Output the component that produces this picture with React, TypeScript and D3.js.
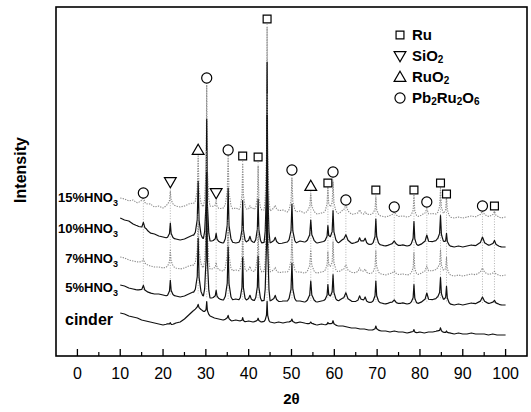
import React from 'react';
import * as d3 from 'd3';

const W = 531;
const H = 412;

// 2θ grid for baselines (10..100, 1° step)
const gridStart = 10;

// Reflection positions (2θ) and their widths (deg)
const peakPos = [15.4, 21.7, 28.2, 30.2, 32.4, 35.2, 38.6, 40.3, 42.2, 44.3, 46.2, 50.1, 54.5, 58.5, 59.7, 62.7, 65.9, 67.2, 69.7, 74.0, 78.6, 81.6, 84.8, 86.2, 94.6, 97.4];
const peakWidth = [0.5, 0.28, 0.3, 0.22, 0.3, 0.3, 0.25, 0.45, 0.25, 0.2, 0.45, 0.3, 0.35, 0.28, 0.3, 0.7, 0.5, 0.5, 0.28, 0.7, 0.28, 0.6, 0.3, 0.28, 0.7, 0.5];

// Peak heights per sample
const peaks15 = [6, 13, 49, 122, 7, 51, 46, 4, 45, 183, 4, 33, 19, 26, 30, 8, 4, 4, 18, 3, 21, 7, 27, 22, 5, 5];
const peaks10 = [7, 15, 55, 120, 8, 53, 42, 6, 43, 180, 5, 38, 21, 15, 30, 7, 5, 5, 25, 3, 24, 9, 26, 11, 8, 5];
const peaks7 = [5, 16, 52, 118, 7, 50, 45, 5, 44, 178, 4, 35, 22, 19, 29, 7, 4, 4, 22, 3, 22, 7, 21, 16, 6, 3];
const peaks5 = [6, 15, 55, 125, 8, 52, 43, 5, 44, 185, 5, 37, 20, 15, 25, 8, 5, 5, 21, 3, 19, 9, 22, 16, 6, 3];
const peaksCinder = [0, 2, 4, 12, 0, 4, 4, 0, 3, 20, 0, 3, 2, 2, 4, 0, 0, 0, 4, 0, 3, 0, 4, 2, 0, 0];

// Baselines (intensity, 10..100 step 1)
const base15 = [158, 157, 155, 156, 153, 154, 151, 152, 149, 150, 148, 151, 152, 150, 149, 150, 152, 153, 151, 150, 149, 150, 149, 147, 148, 149, 147, 148, 146, 147, 146, 147, 145, 146, 146, 145, 147, 145, 146, 144, 145, 144, 145, 143, 144, 144, 142, 143, 144, 145, 144, 142, 144, 143, 141, 142, 142, 140, 141, 142, 141, 140, 139, 140, 141, 139, 140, 139, 140, 139, 140, 141, 140, 142, 142, 141, 140, 139, 138, 139, 138, 139, 140, 139, 140, 140, 139, 140, 139, 138, 139];
const base10 = [138, 136, 135, 132, 130, 127, 126, 123, 122, 120, 119, 118, 118, 117, 116, 117, 119, 121, 120, 118, 117, 115, 115, 114, 113, 115, 114, 113, 114, 113, 114, 113, 114, 113, 114, 113, 114, 112, 113, 114, 114, 113, 115, 114, 115, 115, 113, 114, 115, 116, 115, 113, 115, 114, 112, 113, 113, 113, 111, 112, 112, 111, 110, 111, 112, 110, 111, 110, 111, 110, 111, 112, 112, 114, 116, 114, 112, 110, 109, 110, 109, 110, 111, 110, 111, 111, 110, 111, 110, 109, 109];
const base7 = [99, 98, 96, 95, 94, 93, 91, 90, 89, 89, 88, 89, 90, 88, 87, 88, 90, 91, 90, 89, 88, 87, 87, 86, 85, 86, 85, 86, 85, 84, 85, 84, 85, 84, 85, 84, 85, 83, 84, 84, 85, 84, 84, 83, 84, 84, 83, 84, 85, 86, 85, 84, 85, 84, 83, 83, 84, 83, 82, 83, 83, 82, 81, 82, 82, 81, 82, 81, 82, 81, 82, 83, 83, 85, 87, 85, 83, 81, 80, 81, 80, 81, 82, 81, 82, 82, 81, 82, 81, 80, 81];
const base5 = [71, 70, 68, 67, 66, 65, 64, 63, 62, 62, 61, 60, 61, 60, 59, 60, 62, 64, 63, 61, 59, 58, 58, 57, 56, 57, 56, 57, 56, 55, 56, 55, 56, 55, 56, 55, 56, 54, 55, 55, 56, 55, 55, 54, 55, 55, 54, 55, 56, 57, 56, 55, 56, 55, 54, 54, 55, 54, 53, 54, 54, 53, 52, 53, 53, 52, 53, 52, 53, 52, 53, 54, 54, 56, 58, 56, 54, 52, 51, 52, 51, 52, 53, 52, 53, 53, 52, 53, 52, 51, 51];
const baseCinder = [43, 42, 40, 39, 38, 36, 35, 34, 33, 32, 31, 32, 31, 33, 34, 37, 41, 45, 48, 46, 43, 40, 38, 37, 36, 37, 35, 36, 35, 34, 35, 34, 35, 34, 35, 34, 33, 34, 33, 34, 34, 33, 34, 33, 32, 32, 31, 32, 31, 32, 31, 30, 30, 29, 28, 28, 27, 27, 26, 26, 26, 25, 25, 24, 25, 24, 24, 23, 24, 23, 24, 23, 24, 24, 25, 24, 23, 23, 22, 23, 22, 22, 23, 22, 22, 22, 21, 22, 21, 21, 21];

const seriesNames = ['15%HNO', '10%HNO', '7%HNO', '5%HNO', 'cinder'];
const seriesBases = [base15, base10, base7, base5, baseCinder];
const seriesPeaks = [peaks15, peaks10, peaks7, peaks5, peaksCinder];
const seriesDotted = [true, false, true, false, false];
const seriesLabelY = [197, 228, 258, 287, 319];

// Phase markers
const markerType = ['circle', 'down', 'up', 'circle', 'down', 'circle', 'square', 'square', 'square', 'circle', 'up', 'square', 'circle', 'circle', 'square', 'circle', 'square', 'circle', 'square', 'square', 'circle', 'square'];
const markerPos = [15.4, 21.7, 28.2, 30.2, 32.4, 35.2, 38.6, 42.2, 44.3, 50.1, 54.5, 58.5, 59.7, 62.7, 69.7, 74.0, 78.6, 81.6, 84.8, 86.2, 94.6, 97.4];
const markerY = [163, 174, 206, 278, 163, 206, 200, 199, 337, 186, 170, 173, 184, 156, 166, 149, 166, 154, 173, 162, 150, 150];

const legendTypes = ['square', 'down', 'up', 'circle'];
const legendLabels = [
  [['Ru', false]],
  [['SiO', false], ['2', true]],
  [['RuO', false], ['2', true]],
  [['Pb', false], ['2', true], ['Ru', false], ['2', true], ['O', false], ['6', true]],
];

const xTicks = [0, 10, 20, 30, 40, 50, 60, 70, 80, 90, 100];
const xMinor = [5, 15, 25, 35, 45, 55, 65, 75, 85, 95];

const FONT = 'Liberation Sans, Arial, Helvetica, sans-serif';

const x = d3.scaleLinear().domain([-5, 105]).range([56, 527]);
const y = d3.scaleLinear().domain([0, 349]).range([356, 7]);

function shape(d: number): number {
  const a = Math.abs(d);
  const k = [0, 0.7, 2.2, 3.5];
  const v = [1, 0.3, 0.06, 0];
  if (a >= k[3]) return 0;
  for (let i = 0; i < 3; i++) {
    if (a <= k[i + 1]) {
      const f = (a - k[i]) / (k[i + 1] - k[i]);
      return v[i] * (1 - f) + v[i + 1] * f;
    }
  }
  return 0;
}

function baseAt(base: number[], t: number): number {
  const u = Math.max(0, Math.min(base.length - 1, t - gridStart));
  const i = Math.min(base.length - 2, Math.floor(u));
  const f = u - i;
  return base[i] * (1 - f) + base[i + 1] * f;
}

function buildTrace(base: number[], heights: number[]): [number, number][] {
  const xs: number[] = base.map((_, i) => gridStart + i);
  peakPos.forEach((p, i) => {
    if (!heights[i]) return;
    const w = peakWidth[i];
    [-3.5, -2.2, -0.7, 0, 0.7, 2.2, 3.5].forEach((k) => {
      const t = p + k * w;
      if (t >= gridStart && t <= gridStart + base.length - 1) xs.push(t);
    });
  });
  xs.sort((a, b) => a - b);
  return xs.map((t) => {
    let v = baseAt(base, t);
    peakPos.forEach((p, i) => {
      if (heights[i]) v += heights[i] * shape((t - p) / peakWidth[i]);
    });
    return [t, v];
  });
}

function Marker({ type, cx, cy }: { type: string; cx: number; cy: number }) {
  let sym: any = d3.symbolCircle;
  let size = 80;
  let rot = 0;
  let dy = 0;
  if (type === 'square') { sym = d3.symbolSquare; size = 62; }
  if (type === 'up') { sym = d3.symbolTriangle; size = 60; dy = 1; }
  if (type === 'down') { sym = d3.symbolTriangle; size = 60; rot = 180; dy = -1; }
  const path = d3.symbol().type(sym).size(size)() as string;
  return (
    <path d={path} transform={`translate(${cx},${cy + dy}) rotate(${rot})`} fill="#fff" stroke="#000" strokeWidth={1.2} />
  );
}

export default function App() {
  const line = d3.line<[number, number]>().x((d) => x(d[0])).y((d) => y(d[1]));
  const traces = seriesBases.map((b, i) => buildTrace(b, seriesPeaks[i]));

  return (
    <svg width={W} height={H} style={{ position: 'absolute', left: 0, top: 0, background: '#fff' }} fontFamily={FONT}>
      <rect x={0} y={0} width={W} height={H} fill="#fff" />
      {/* guide lines */}
      {markerPos.map((p, i) => (
        <line key={'g' + i} x1={x(p)} x2={x(p)} y1={y(markerY[i]) + 5} y2={y(baseAt(base5, p))}
          stroke="#aaa" strokeWidth={0.9} strokeDasharray="1 1.6" />
      ))}
      {/* traces */}
      {traces.map((t, i) => (
        <path key={'t' + i} d={line(t) as string} fill="none"
          stroke={seriesDotted[i] ? '#8a8a8a' : '#111'}
          strokeWidth={seriesDotted[i] ? 1.1 : 1.2}
          strokeDasharray={seriesDotted[i] ? '1.3 1.2' : undefined}
          strokeLinejoin="round" />
      ))}
      {/* markers */}
      {markerPos.map((p, i) => (
        <Marker key={'m' + i} type={markerType[i]} cx={x(p)} cy={y(markerY[i])} />
      ))}
      {/* series labels */}
      {seriesNames.map((n, i) =>
        n === 'cinder' ? (
          <text key={'l' + i} x={113} y={seriesLabelY[i] + 6} textAnchor="end" fontSize={16} fontWeight="bold">{n}</text>
        ) : (
          <text key={'l' + i} x={118} y={seriesLabelY[i] + 5} textAnchor="end" fontSize={13} fontWeight="bold">
            {n}<tspan fontSize={9} dy={4}>3</tspan>
          </text>
        )
      )}
      {/* legend */}
      {legendTypes.map((t, i) => (
        <g key={'lg' + i}>
          <Marker type={t} cx={400} cy={35 + i * 21} />
          <text x={412} y={35 + i * 21 + 5} fontSize={15} fontWeight="bold">
            {(legendLabels[i] as any[]).map((s, j) => (
              <tspan key={j} fontSize={s[1] ? 10 : 15} dy={s[1] ? 2 : (j > 0 && (legendLabels[i] as any[])[j - 1][1] ? -2 : 0)}>{s[0]}</tspan>
            ))}
          </text>
        </g>
      ))}
      {/* frame */}
      <rect x={56} y={7} width={471} height={349} fill="none" stroke="#000" strokeWidth={1.6} />
      {/* ticks */}
      {xTicks.map((t) => (
        <g key={'xt' + t}>
          <line x1={x(t)} x2={x(t)} y1={356} y2={349} stroke="#000" strokeWidth={1.3} />
          <text x={x(t)} y={379} textAnchor="middle" fontSize={16}>{t}</text>
        </g>
      ))}
      {xMinor.map((t) => (
        <line key={'xm' + t} x1={x(t)} x2={x(t)} y1={356} y2={352} stroke="#000" strokeWidth={1.2} />
      ))}
      <text x={x(50)} y={404} textAnchor="middle" fontSize={15} fontWeight="bold">2θ</text>
      <text transform="translate(26,170) rotate(-90)" textAnchor="middle" fontSize={16} fontWeight="bold">Intensity</text>
    </svg>
  );
}
